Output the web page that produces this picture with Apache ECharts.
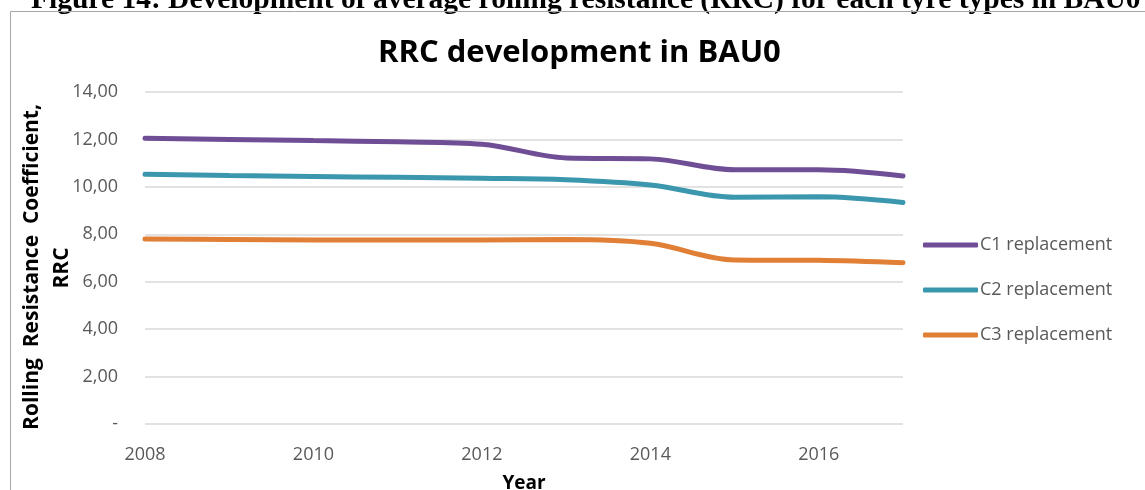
<!DOCTYPE html>
<html>
<head>
<meta charset="utf-8">
<script src="https://cdn.jsdelivr.net/npm/echarts@6/dist/echarts.min.js"></script>
<style>
  html, body { margin: 0; padding: 0; background: #fff; }
  #chart { width: 1145px; height: 490px; }
</style>
</head>
<body>
<div id="chart"></div>
<script>
// data
var years = [2008, 2009, 2010, 2011, 2012, 2013, 2014, 2015, 2016, 2017];
var c1 = [12.05, 12.00, 11.95, 11.90, 11.80, 11.22, 11.18, 10.72, 10.72, 10.46];
var c2 = [10.53, 10.48, 10.44, 10.40, 10.36, 10.30, 10.08, 9.56, 9.58, 9.34];
var c3 = [7.80, 7.78, 7.76, 7.76, 7.76, 7.78, 7.62, 6.92, 6.90, 6.80];
var seriesNames = ['C1 replacement', 'C2 replacement', 'C3 replacement'];
var colors = ['#6f4e96', '#3b97ad', '#e07f35'];

function pairs(vals) {
  return years.map(function (y, i) { return [y, vals[i]]; });
}

var myChart = echarts.init(document.getElementById('chart'));

var nameFont = 'bold 21px "Open Sans"';

var option = {
  backgroundColor: '#fff',
  animation: false,
  title: {
    text: 'RRC development in BAU0',
    left: 373,
    top: 33,
    textStyle: { fontFamily: 'Open Sans', fontWeight: 'bold', fontSize: 31, color: '#000' }
  },
  graphic: [
    { // figure caption, cut off at the top
      type: 'text', left: 31, top: -15,
      style: { text: 'Figure 14: Development of average rolling resistance (RRC) for each tyre types in BAU0',
        font: 'bold 29.5px "Liberation Serif"', fill: '#000' }
    },
    { // chart frame
      type: 'rect', shape: { x: 10.5, y: 11.5, width: 1200, height: 600 },
      style: { fill: 'none', stroke: '#a6a6a6', lineWidth: 1 }
    },
    { // y axis title, two lines
      type: 'text', x: 32, y: 267, rotation: Math.PI / 2,
      style: { text: 'Rolling  Resistance  Coefficient,', font: nameFont, fill: '#000',
        textAlign: 'center', textVerticalAlign: 'middle' }
    },
    {
      type: 'text', x: 62, y: 268, rotation: Math.PI / 2,
      style: { text: 'RRC', font: nameFont, fill: '#000',
        textAlign: 'center', textVerticalAlign: 'middle' }
    }
  ],
  legend: {
    orient: 'vertical',
    left: 918,
    top: 231,
    icon: 'roundRect',
    itemWidth: 55,
    itemHeight: 5,
    itemGap: 27,
    textStyle: { fontFamily: 'Open Sans', fontSize: 18, color: '#595959', padding: [0, 0, 0, -3] },
    data: seriesNames
  },
  grid: { left: 145, right: 242, top: 92, bottom: 66, outerBoundsMode: 'none' },
  xAxis: {
    type: 'value',
    min: 2008, max: 2017, interval: 2,
    name: 'Year',
    nameLocation: 'middle',
    nameGap: 50,
    nameTextStyle: { fontFamily: 'Open Sans', fontWeight: 'bold', fontSize: 19, color: '#000' },
    axisLine: { show: false },
    axisTick: { show: false },
    splitLine: { show: false },
    axisLabel: { margin: 22, showMaxLabel: false, fontFamily: 'Open Sans', fontSize: 18, color: '#595959',
      formatter: function (v) { return String(v); } }
  },
  yAxis: {
    type: 'value',
    min: 0, max: 14, interval: 2,
    axisLine: { show: false },
    axisTick: { show: false },
    splitLine: { lineStyle: { color: '#d9d9d9', width: 1.5 } },
    axisLabel: { margin: 27, fontFamily: 'Open Sans', fontSize: 18, color: '#595959',
      formatter: function (v) { return v === 0 ? '-' : v.toFixed(2).replace('.', ','); } }
  },
  series: [c1, c2, c3].map(function (vals, i) {
    return {
      name: seriesNames[i],
      type: 'line',
      data: pairs(vals),
      smooth: 0.35,
      symbol: 'none',
      lineStyle: { color: colors[i], width: 5, cap: 'round' },
      itemStyle: { color: colors[i] }
    };
  })
};

myChart.setOption(option);
</script>
</body>
</html>
